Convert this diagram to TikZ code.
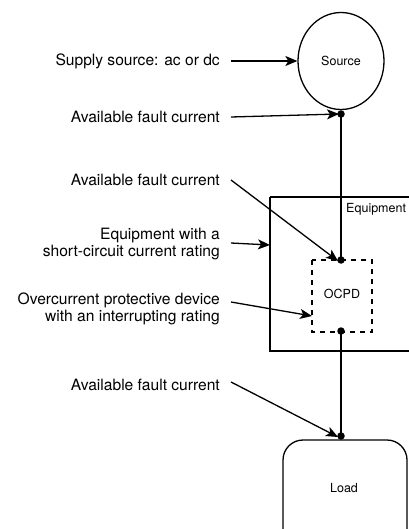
\documentclass[tikz,border=0pt]{standalone}
\usepackage{fontspec}
\setmainfont{TeX Gyre Heros}
\usetikzlibrary{arrows.meta,shapes.geometric}
\begin{document}
\begin{tikzpicture}[x=1pt,y=-1pt,
  lbl/.style={font=\fontsize{15.6}{16.5}\selectfont, anchor=east, align=right, inner sep=0pt},
  small/.style={font=\fontsize{12.5}{14}\selectfont},
  conn/.style={line width=1.3pt},
  arr/.style={line width=1.3pt, -{Stealth[length=12pt,width=10pt,inset=3pt]}},
  dot/.style={circle, fill=black, inner sep=0pt, minimum size=7.5pt}]
\useasboundingbox (0,0) rectangle (408,529);
% shapes
\node[ellipse, draw, line width=1.3pt, minimum width=86pt, minimum height=97pt, small] (src) at (341,61) {Source};
\draw[line width=1.3pt] (270,197) -- (412,197) (270,197) -- (270,351) -- (412,351);
\coordinate (eqL) at (270,245);
\node[small, anchor=base west, inner sep=0pt] (eqlbl) at (346,212) {Equipment};
\draw[line width=1.3pt, dash pattern=on 5pt off 5pt] (312,260) rectangle (372,332);
\node[small] (ocpd) at (342,294) {OCPD};
\coordinate (ocpdL) at (312,316);
\draw[line width=1.3pt, rounded corners=20pt] (283,545) -- (283,440) -- (407,440) -- (407,545);
\node[small] (load) at (344,488) {Load};
% dots
\node[dot] (d1) at (341,114) {};
\node[dot] (d2) at (341,260) {};
\node[dot] (d3) at (341,331) {};
\node[dot] (d4) at (341,436) {};
\draw[conn] (d1.center) -- (d2.center);
\draw[conn] (d3.center) -- (d4.center);
% labels
\node[lbl] (t1) at (220,61) {Supply source: ac or dc};
\node[lbl] (t2) at (220,117) {Available fault current};
\node[lbl] (t3) at (220,180) {Available fault current};
\node[lbl] (t4) at (220,244) {Equipment with a\\short-circuit current rating};
\node[lbl] (t5) at (220,309) {Overcurrent protective device\\with an interrupting rating};
\node[lbl] (t6) at (220,385) {Available fault current};
% arrows
\draw[arr] ([xshift=11pt]t1.east) -- (src.west);
\draw[arr] ([xshift=11pt]t2.east) -- ([xshift=-2pt]d1.center);
\draw[arr] ([xshift=11pt]t3.east) -- ([shift={(-3pt,-1pt)}]d2.center);
\draw[arr] ([xshift=11pt,yshift=1pt]t4.east) -- (eqL);
\draw[arr] ([xshift=11pt,yshift=7pt]t5.east) -- (ocpdL);
\draw[arr] ([xshift=11pt,yshift=3pt]t6.east) -- ([shift={(-3pt,-1pt)}]d4.center);
\end{tikzpicture}
\end{document}
